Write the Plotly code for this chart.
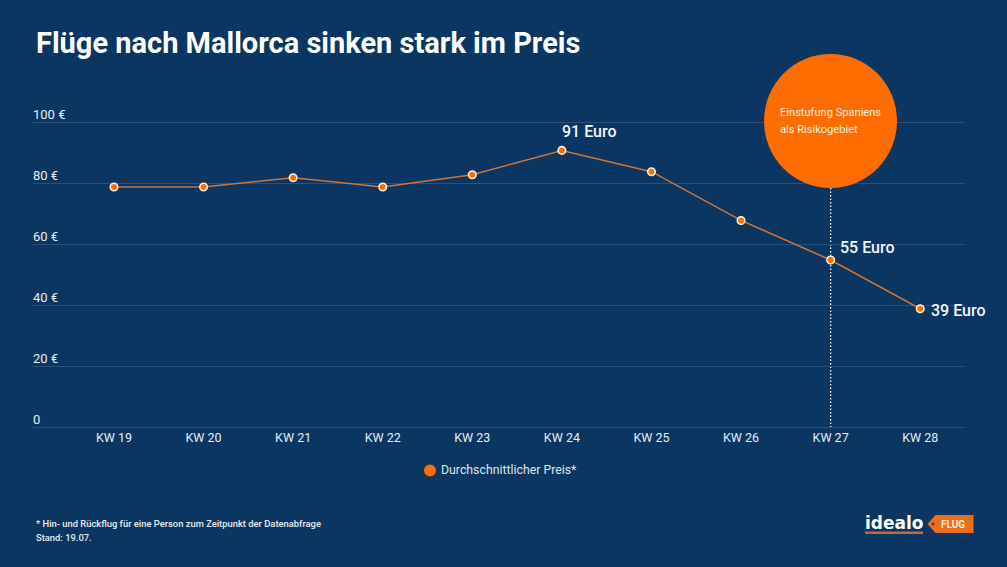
import plotly.graph_objects as go

weeks = ["KW 19", "KW 20", "KW 21", "KW 22", "KW 23", "KW 24", "KW 25", "KW 26", "KW 27", "KW 28"]
prices = [79, 79, 82, 79, 83, 91, 84, 68, 55, 39]
y_ticks = [0, 20, 40, 60, 80, 100]
y_labels = ["0", "20 €", "40 €", "60 €", "80 €", "100 €"]
callouts = {"KW 24": (91, "91 Euro"), "KW 27": (55, "55 Euro"), "KW 28": (39, "39 Euro")}

W, H = 1007, 567
BG = "#0a3661"
ORANGE = "#ff6d00"
FONT = "Roboto"
TXT = "#e6edf3"
px = lambda x: x / W
py = lambda y: 1 - y / H

fig = go.Figure()
fig.add_trace(go.Scatter(
    x=weeks, y=prices, mode="lines+markers", name="Durchschnittlicher Preis*",
    line=dict(color="#cf7438", width=1.5),
    marker=dict(color=ORANGE, size=7.5, line=dict(color="#fff3e6", width=1.6)),
    showlegend=False, cliponaxis=False,
))

fig.update_layout(
    width=W, height=H, autosize=False,
    paper_bgcolor=BG, plot_bgcolor=BG,
    margin=dict(l=0, r=0, t=0, b=0),
    font=dict(family=FONT, color=TXT, size=12),
    hovermode=False,
    xaxis=dict(
        domain=[px(33), px(965)], type="category", categoryorder="array", categoryarray=weeks,
        range=[-0.904, 9.5], showgrid=False, zeroline=False, showline=False,
        ticks="", tickfont=dict(size=12.5, color=TXT, family=FONT), ticklabelstandoff=-2,
    ),
    yaxis=dict(
        domain=[py(430.545), py(119.955)], range=[-1, 101], tickvals=y_ticks, ticktext=y_labels,
        gridcolor="#2a4f78", gridwidth=1, zeroline=False, showline=False, showticklabels=False,
    ),
)

for v, t in zip(y_ticks, y_labels):
    fig.add_annotation(xref="paper", yref="y", x=px(31), y=v, text=t, showarrow=False,
                       xanchor="left", yanchor="bottom", yshift=-1,
                       font=dict(size=13, color=TXT, family=FONT))

def label(x, y, text, size, color="#ffffff", weight=None, xanchor="left", family=FONT):
    fig.add_annotation(xref="paper", yref="paper", x=px(x), y=py(y), text=text, showarrow=False,
                       xanchor=xanchor, yanchor="middle", align="left",
                       font=dict(size=size, color=color, family=family, weight=weight or 400),
                       borderpad=0, borderwidth=0)

label(35.5, 43, "Flüge nach Mallorca sinken stark im Preis", 29, weight=700)

for wk, xs, ys in (("KW 24", -2, 19), ("KW 27", 7, 13), ("KW 28", 9, -2)):
    fig.add_annotation(x=wk, y=callouts[wk][0], text=callouts[wk][1], showarrow=False,
                       xanchor="left", yanchor="middle", xshift=xs, yshift=ys,
                       font=dict(size=16, color="#f2f5f8", family=FONT, weight=500))

# dotted marker line and circle
fig.add_shape(type="line", xref="x", yref="paper", x0="KW 27", x1="KW 27", y0=py(427.5), y1=py(188),
              line=dict(color="#ffffff", width=1.3, dash="1.5px,2px"), layer="below")
fig.add_shape(type="circle", xref="paper", yref="paper", x0=px(764), x1=px(897), y0=py(188), y1=py(54),
              fillcolor=ORANGE, line=dict(width=0), layer="above")
label(780, 112.5, "Einstufung Spaniens", 11.1, color="#fff0e0")
label(780, 129.5, "als Risikogebiet", 11.1, color="#fff0e0")

# legend key and text
fig.add_shape(type="circle", xref="paper", yref="paper", x0=px(424), x1=px(436), y0=py(476.5), y1=py(464.5),
              fillcolor=ORANGE, line=dict(width=0))
label(441, 470, "Durchschnittlicher Preis*", 12.3, color="#dfe7ee")

# footnote
label(35.5, 523.5, "* Hin- und Rückflug für eine Person zum Zeitpunkt der Datenabfrage", 9.4, color=TXT, weight=500)
label(35.5, 537.5, "Stand: 19.07.", 9.4, color=TXT, weight=500)

# logo
label(864.5, 522.5, "idealo", 17, color="#ffffff", weight=700, family="DejaVu Sans")
fig.add_shape(type="rect", xref="paper", yref="paper", x0=px(865), x1=px(923), y0=py(534), y1=py(531.5),
              fillcolor="#c8683a", line=dict(width=0))
x0, x1, yt, yb = 927.5, 973.5, 515, 533
path = (f"M {px(x0)} {py((yt+yb)/2)} L {px(x0+8)} {py(yt)} L {px(x1)} {py(yt)} "
        f"L {px(x1)} {py(yb)} L {px(x0+8)} {py(yb)} Z")
fig.add_shape(type="path", xref="paper", yref="paper", path=path, fillcolor="#e96f1e", line=dict(width=0))
fig.add_shape(type="circle", xref="paper", yref="paper", x0=px(931.5), x1=px(934.5), y0=py(525.5), y1=py(522.5),
              fillcolor="#6b3a2a", line=dict(width=0))
label(940.5, 524.5, "FLUG", 10, color="#ffe9d6", weight=700)

fig.write_html("out.html", config=dict(displayModeBar=False),
               post_script="document.body.style.margin='0';")
